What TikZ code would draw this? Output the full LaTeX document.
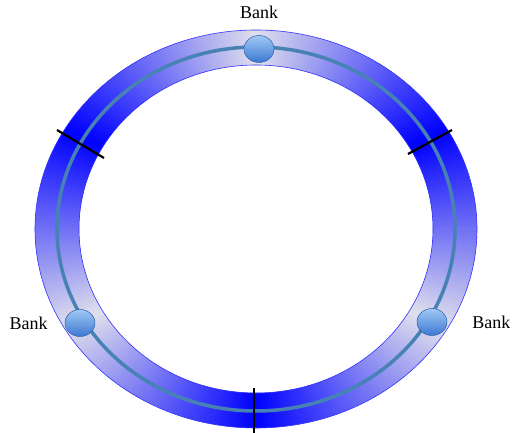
\documentclass[tikz,border=0pt]{standalone}
\usepackage{fontspec}
\setmainfont{Liberation Serif}
\usetikzlibrary{positioning,shapes.geometric}
\definecolor{bankgray}{RGB}{224,224,236}
\definecolor{trackblue}{RGB}{70,130,180}
\definecolor{banktop}{RGB}{160,200,245}
\definecolor{bankbot}{RGB}{60,120,210}

\begin{document}
\begin{tikzpicture}[x=1pt,y=1pt,
ringedge/.style={draw=blue!80,line width=.6pt},
trackline/.style={draw=trackblue,line width=3.5pt},
cutmark/.style={draw=black,line width=2.2pt},
bank/.style={ellipse,draw=bankbot!80!black,line width=.5pt,top color=banktop,bottom color=bankbot,minimum width=30pt,minimum height=27pt,inner sep=0pt},
banklabel/.style={inner sep=0pt,font=\fontsize{18}{20}\selectfont}]
\useasboundingbox (-256,-204) rectangle (258,229);
\coordinate (C) at (0,0);
% shaded ring, blue at the cuts and grey at the banks
\foreach \t in {0,1,...,359}{
  \pgfmathsetmacro\u{mod(\t+0.5+330,120)}
  \pgfmathsetmacro\p{100-100*min(\u,120-\u)/60}
  \colorlet{segc}{blue!\p!bankgray}
  \fill[segc] (\t:221pt and 199pt) arc[start angle=\t,delta angle=1.4,x radius=221pt,y radius=199pt]
    -- (\t+1.4:177pt and 164pt) arc[start angle=\t+1.4,delta angle=-1.4,x radius=177pt,y radius=164pt] -- cycle;
}
\draw[ringedge] (C) ellipse [x radius=221pt,y radius=199pt];
\draw[ringedge] (C) ellipse [x radius=177pt,y radius=164pt];
\draw[trackline] (C) ellipse [x radius=199pt,y radius=182pt];

% cuts across the ring
\coordinate (cutLa) at (-199,99);
\coordinate (cutLb) at (-152,71);
\coordinate (cutRa) at (152,75);
\coordinate (cutRb) at (196,99);
\coordinate (cutBa) at (-2,-159);
\coordinate (cutBb) at (-2,-204);
\draw[cutmark] (cutLa)--(cutLb);
\draw[cutmark] (cutRa)--(cutRb);
\draw[cutmark] (cutBa)--(cutBb);

% banks
\node[bank] (bankT) at (3,180) {};
\node[bank] (bankL) at (-176,-94) {};
\node[bank] (bankR) at (176,-93) {};
\node[banklabel,above=16pt of bankT] (labT) {Bank};
\node[banklabel,left=17pt of bankL] (labL) {Bank};
\node[banklabel,right=25pt of bankR] (labR) {Bank};
\end{tikzpicture}
\end{document}
